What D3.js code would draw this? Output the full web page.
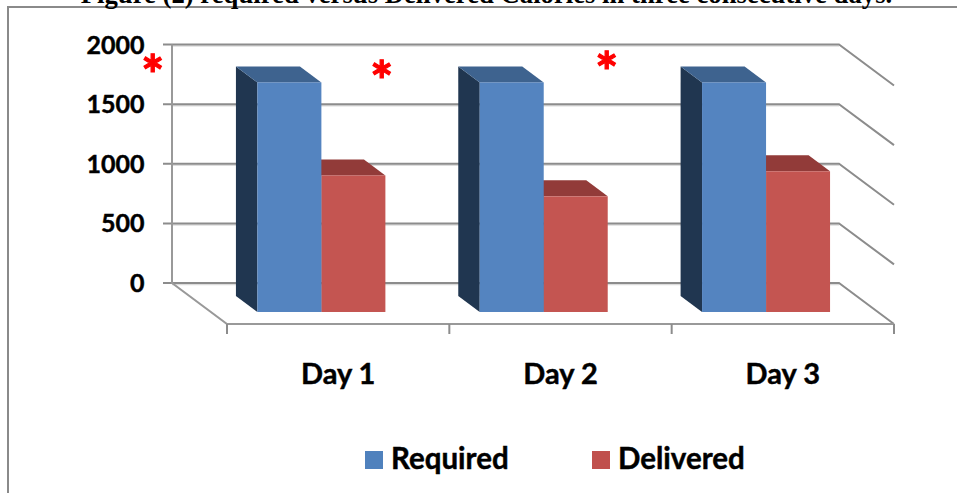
<!DOCTYPE html>
<html>
<head>
<meta charset="utf-8">
<script src="https://cdn.jsdelivr.net/npm/d3@7"></script>
<style>
html, body { margin: 0; padding: 0; background: #fff; overflow: hidden; }
svg { display: block; }
text { font-family: Lato, "Open Sans", sans-serif; font-weight: 700; fill: #000; stroke: #000; stroke-width: 0.45px; }
</style>
</head>
<body>
<svg id="chart" width="957" height="493"></svg>
<script>
var categories = ["Day 1", "Day 2", "Day 3"];
var seriesNames = ["Required", "Delivered"];
var required = [1925, 1925, 1925];
var delivered = [1145, 970, 1180];
var yTicks = [0, 500, 1000, 1500, 2000];
var titleText = "Figure (2) required versus Delivered Calories in three consecutive days.";

var front = "#5484c0", top_ = "#3e638f", side = "#203650";
var redFront = "#c45551", redTop = "#923b39";
var gridCol = "#8c8c8c";

var svg = d3.select("#chart");

// floor front edge and the wall height
var x = d3.scaleBand().domain(categories).range([227, 894]);
var y = d3.scaleLinear().domain([0, 2000]).range([283, 44.5]);

// depth: 0 = back wall, 1 = front of the floor
var depthX = 55, depthY = 41;
function px(xFront, d) { return xFront + (d - 1) * depthX; }
function py(v, d) { return y(v) + d * depthY; }
function pts(a) { return a.map(function(p) { return p.join(","); }).join(" "); }

// outer frame, only top and left are in the crop
svg.append("path").attr("d", "M8,493V7H957").attr("fill", "none").attr("stroke", "#8a8a8a").attr("stroke-width", 2);

// the title runs off the top of the picture in the reference too
svg.append("text").text(titleText)
	.attr("x", 486.5).attr("y", 2.5).attr("text-anchor", "middle")
	.style("font-family", "'Liberation Serif', serif").style("font-size", "26.7px").style("stroke", "none");

// grid lines on back wall and right side wall
yTicks.forEach(function(t) {
	var g = svg.append("g");
	g.append("path")
		.attr("d", d3.line()([[172, y(t) + 1.5], [px(894, 0), y(t) + 1.5]]))
		.attr("fill", "none").attr("stroke", "#dcdcdc").attr("stroke-width", 1.5);
	g.append("path")
		.attr("d", d3.line()([[163, y(t)], [px(227, 0), y(t)], [px(894, 0), y(t)], [894, py(t, 1)]]))
		.attr("fill", "none").attr("stroke", gridCol).attr("stroke-width", 2);
	svg.append("text").text(t)
		.attr("x", 144.5).attr("y", y(t) + 9).attr("text-anchor", "end")
		.style("font-size", "25px");
});

// left wall edge and floor
svg.append("path")
	.attr("d", d3.line()([[px(227, 0), y(2000)], [px(227, 0), y(0)], [227, py(0, 1)], [894, py(0, 1)]]))
	.attr("fill", "none").attr("stroke", "#999").attr("stroke-width", 2);

categories.forEach(function(c) {
	svg.append("line").attr("x1", x(c)).attr("x2", x(c)).attr("y1", py(0, 1)).attr("y2", py(0, 1) + 10)
		.attr("stroke", gridCol).attr("stroke-width", 2);
	svg.append("text").text(c)
		.attr("x", x(c) + x.bandwidth() / 2).attr("y", 384).attr("text-anchor", "middle")
		.style("font-size", "29px");
});
svg.append("line").attr("x1", 894).attr("x2", 894).attr("y1", py(0, 1)).attr("y2", py(0, 1) + 10)
	.attr("stroke", gridCol).attr("stroke-width", 2);

// bars
var barFront = 0.707, barBack = 0.317;
var group = d3.scaleBand().domain(seriesNames).range([46.5, 174.5]);

function drawBar(c, name, v, colFront, colTop, colSide) {
	var x0 = x(c) + group(name), x1 = x0 + group.bandwidth();
	var g = svg.append("g");
	g.append("polygon").attr("fill", colSide).attr("points", pts([
		[px(x0, barBack), py(v, barBack)], [px(x0, barFront), py(v, barFront)],
		[px(x0, barFront), py(0, barFront)], [px(x0, barBack), py(0, barBack)]]));
	g.append("polygon").attr("fill", colTop).attr("points", pts([
		[px(x0, barBack), py(v, barBack)], [px(x1, barBack), py(v, barBack)],
		[px(x1, barFront), py(v, barFront)], [px(x0, barFront), py(v, barFront)]]));
	g.append("rect").attr("fill", colFront)
		.attr("x", px(x0, barFront)).attr("y", py(v, barFront))
		.attr("width", x1 - x0).attr("height", py(0, barFront) - py(v, barFront));
}

categories.forEach(function(c, i) {
	drawBar(c, "Delivered", delivered[i], redFront, redTop, "#6e2c2a");
	drawBar(c, "Required", required[i], front, top_, side);
});

// legend
var legend = [["Required", 365, "#4f81bd"], ["Delivered", 592, "#c0504d"]];
legend.forEach(function(l) {
	svg.append("rect").attr("x", l[1]).attr("y", 451).attr("width", 18).attr("height", 18).attr("fill", l[2]);
	svg.append("text").text(l[0]).attr("x", l[1] + 26).attr("y", 469).style("font-size", "29.5px");
});

// significance stars
var stars = [[152.7, 94], [381.7, 100], [606.7, 91]];
stars.forEach(function(s) {
	svg.append("text").text("*").attr("x", s[0]).attr("y", s[1]).attr("text-anchor", "middle")
		.style("font-size", "54px").style("fill", "#ff0000").style("stroke", "#ff0000").style("stroke-width", "1.2px");
});
</script>
</body>
</html>
